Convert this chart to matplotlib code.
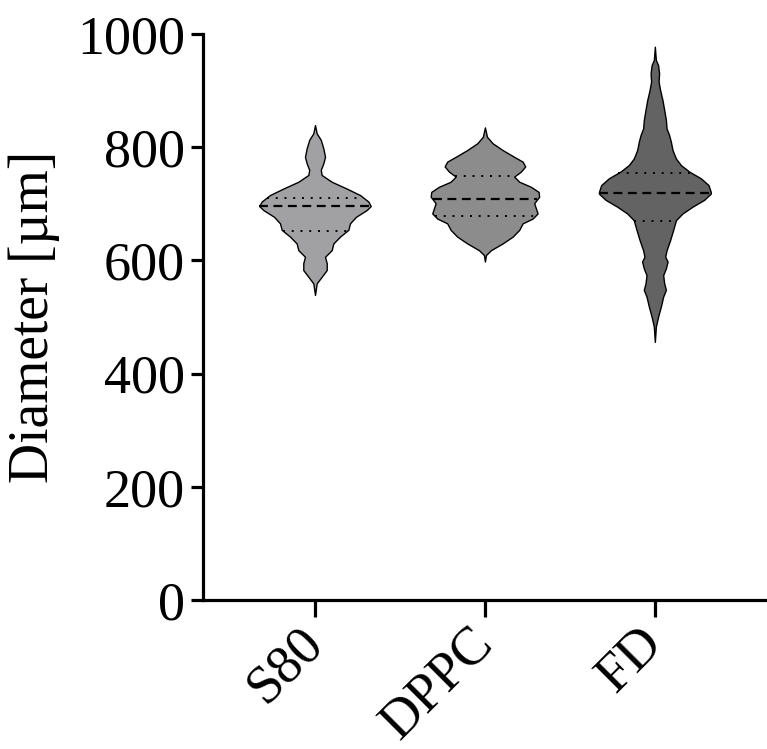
import numpy as np
import matplotlib
matplotlib.use("Agg")
import matplotlib.pyplot as plt
from matplotlib import font_manager as fm

# Times-like face, picked by file so the name lookup cannot fall back
cands = [f.fname for f in fm.fontManager.ttflist if "LiberationSerif-Regular" in f.fname]
if not cands:
    cands = [f.fname for f in fm.fontManager.ttflist
             if f.name == "Liberation Serif" and f.style == "normal"]
font_path = cands[0] if cands else None


def fp(size):
    if font_path:
        return fm.FontProperties(fname=font_path, size=size)
    return fm.FontProperties(family="serif", size=size)


groups = ["S80", "DPPC", "FD"]
colors = ["#a1a1a4", "#8c8c8c", "#636363"]

# violin outlines: diameter level and half width (x units)
s80_y = [839, 824.5, 813, 798, 783, 771.5, 760, 751, 739, 727, 715.5, 704, 696, 689, 677,
         665.5, 654, 642, 630, 618, 606.5, 595, 583, 571, 559.5, 539]
s80_w = [0.0, 0.010, 0.034, 0.049, 0.059, 0.049, 0.034, 0.039, 0.098, 0.186, 0.265, 0.314,
         0.328, 0.304, 0.241, 0.206, 0.196, 0.147, 0.108, 0.098, 0.059, 0.069, 0.069, 0.039,
         0.010, 0.0]

dppc_y = [835, 818.5, 807, 795, 783, 774.5, 766, 757, 748, 739, 730, 721, 712.5, 701, 692,
          683, 674, 665.5, 654, 642, 630, 618, 609.5, 598]
dppc_w = [0.0, 0.012, 0.045, 0.104, 0.172, 0.222, 0.237, 0.212, 0.172, 0.202, 0.271, 0.316,
          0.319, 0.290, 0.300, 0.310, 0.281, 0.222, 0.202, 0.163, 0.104, 0.035, 0.006, 0.0]

fd_y = [977.5, 954, 945, 930.5, 916, 901, 883, 866, 848, 833, 821.5, 810, 795, 780, 768.5,
        757, 745, 733, 721, 718, 707, 695, 683, 671, 654, 636, 618, 606.5, 598, 586, 574,
        559.5, 548, 536, 518, 500.5, 483, 456]
fd_w = [0.0, 0.006, 0.019, 0.025, 0.022, 0.031, 0.045, 0.055, 0.065, 0.069, 0.084, 0.094,
        0.104, 0.124, 0.153, 0.202, 0.271, 0.316, 0.329, 0.329, 0.290, 0.222, 0.163, 0.124,
        0.108, 0.090, 0.069, 0.061, 0.075, 0.065, 0.049, 0.055, 0.065, 0.049, 0.035, 0.019,
        0.006, 0.0]

profiles = [(s80_y, s80_w), (dppc_y, dppc_w), (fd_y, fd_w)]

medians = [696, 708, 718.5]
q1 = [652, 678, 670]
q3 = [711, 749, 754]

fig = plt.figure(figsize=(7.67, 7.49), dpi=100)
ax = fig.add_axes([0.2647, 0.1989, 0.7353, 0.7557])

for i, (yv, wv) in enumerate(profiles):
    pos = i + 1
    yv = np.array(yv, dtype=float)
    wv = np.array(wv, dtype=float)
    ax.fill_betweenx(yv, pos - wv, pos + wv, facecolor=colors[i],
                     edgecolor="black", linewidth=1.0, joinstyle="round", zorder=2)

    # median and quartiles span the violin at that level
    order = np.argsort(yv)
    for val, ls, lw in [(medians[i], (0, (4, 2.5)), 1.6),
                        (q1[i], (0, (1, 3.5)), 1.4),
                        (q3[i], (0, (1, 3.5)), 1.4)]:
        hw = np.interp(val, yv[order], wv[order])
        ax.plot([pos - hw, pos + hw], [val, val], color="black",
                linestyle=ls, lw=lw, zorder=3)

ax.set_xlim(0.341, 3.66)
ax.set_ylim(0, 1000)
ax.set_yticks([0, 200, 400, 600, 800, 1000])
ax.set_xticks([1, 2, 3])
ax.set_xticklabels(groups, rotation=45, ha="right", va="center",
                   rotation_mode="anchor", fontproperties=fp(39))
for lab in ax.get_yticklabels():
    lab.set_fontproperties(fp(39))

ax.spines["top"].set_visible(False)
ax.spines["right"].set_visible(False)
for sp in ["left", "bottom"]:
    ax.spines[sp].set_linewidth(2.3)
    ax.spines[sp].set_capstyle("projecting")
ax.tick_params(axis="both", width=2.3, length=9, pad=4)
ax.tick_params(axis="x", length=12, pad=14)
ax.set_ylabel("Diameter [µm]", fontproperties=fp(40), labelpad=12)

fig.savefig("out.png", dpi=100)
